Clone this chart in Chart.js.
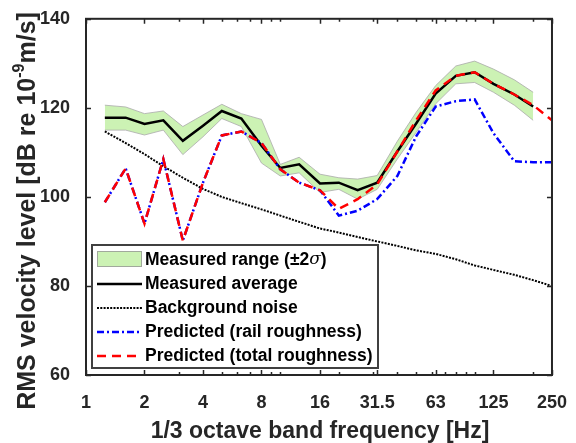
<!DOCTYPE html>
<html>
<head>
<meta charset="utf-8">
<script src="https://cdn.jsdelivr.net/npm/chart.js@4.4.0/dist/chart.umd.min.js"></script>
<style>
    html, body { margin: 0; padding: 0; background: #fff; }
    #wrap { width: 576px; height: 443px; }
</style>
</head>
<body>
<div id="wrap"><canvas id="velocityChart" width="576" height="443"></canvas></div>
<script>
// 1/3 octave band centre frequencies [Hz]
const bandFreqs = [1.25, 1.6, 2, 2.5, 3.15, 4, 5, 6.3, 8, 10, 12.5, 16, 20, 25, 31.5, 40, 50, 63, 80, 100, 125, 160, 200, 250];

// Measured values only go up to 200 Hz
const measuredAvg = [117.8, 117.8, 116.4, 117.2, 112.6, 116.0, 119.3, 117.6, 111.5, 106.5, 107.3, 103.0, 103.2, 101.5, 103.2, 110.2, 116.5, 123.2, 127.2, 128.0, 125.4, 123.0, 120.3];
const measuredUpper = [120.6, 120.2, 118.7, 119.3, 115.8, 118.4, 120.8, 118.7, 117.4, 107.3, 108.9, 105.1, 104.3, 104.0, 104.8, 112.5, 119.0, 125.0, 129.4, 130.5, 128.7, 126.3, 123.5];
const measuredLower = [115.0, 115.0, 113.9, 115.0, 109.5, 113.5, 117.6, 115.8, 107.6, 104.7, 105.4, 101.0, 101.7, 99.5, 101.7, 108.5, 114.5, 120.9, 125.4, 125.7, 123.5, 120.6, 117.2];

const backgroundNoise = [114.7, 112.1, 109.6, 106.9, 104.3, 101.8, 100.0, 98.6, 97.2, 95.8, 94.4, 92.9, 92.0, 91.0, 90.0, 89.0, 88.0, 87.2, 86.0, 84.6, 83.6, 82.5, 81.3, 80.0];
const predictedRail = [98.8, 106.4, 94.0, 108.5, 90.2, 103.2, 113.8, 114.7, 112.1, 106.2, 103.2, 101.5, 95.8, 96.9, 99.5, 104.7, 113.6, 120.3, 121.5, 121.9, 114.3, 108.0, 107.8, 107.8];
const predictedTotal = [98.8, 106.4, 94.0, 108.5, 90.2, 103.2, 113.8, 114.7, 112.1, 106.2, 103.2, 101.5, 97.3, 99.5, 102.8, 110.2, 117.2, 123.9, 127.2, 128.0, 125.4, 123.0, 120.6, 117.2];

// Axis ticks
const xTickValues = [1, 2, 4, 8, 16, 31.5, 63, 125, 250];
const xTickLabels = ['1', '2', '4', '8', '16', '31.5', '63', '125', '250'];
const xMinorTicks = [3, 5, 6, 7, 9, 10, 20, 30, 40, 50, 60, 70, 80, 90, 100, 200];
const yTickValues = [60, 80, 100, 120, 140];

const FONT = '"Liberation Sans", Arial, sans-serif';
const AXIS_COLOR = '#262626';
const BAND_GREEN = 'rgb(204, 242, 180)';

// Pair frequencies with values
function toPoints(values) {
    return values.map((v, i) => ({ x: bandFreqs[i], y: v }));
}

// Frame, inward ticks and axis titles
const framePlugin = {
    id: 'frame',
    afterDatasetsDraw(chart) {
        const { ctx, chartArea: a, scales } = chart;
        ctx.save();
        ctx.strokeStyle = AXIS_COLOR;
        ctx.lineWidth = 1.5;
        // x ticks (bottom and top)
        const drawX = (vals, len) => {
            vals.forEach(v => {
                const px = Math.round(scales.x.getPixelForValue(v)) + 0.5;
                ctx.beginPath();
                ctx.moveTo(px, a.bottom); ctx.lineTo(px, a.bottom - len);
                ctx.moveTo(px, a.top); ctx.lineTo(px, a.top + len);
                ctx.stroke();
            });
        };
        drawX(xMinorTicks, 3);
        drawX(xTickValues, 5);
        // y ticks (left and right)
        yTickValues.forEach(v => {
            const py = Math.round(scales.y.getPixelForValue(v)) + 0.5;
            ctx.beginPath();
            ctx.moveTo(a.left, py); ctx.lineTo(a.left + 5, py);
            ctx.moveTo(a.right, py); ctx.lineTo(a.right - 5, py);
            ctx.stroke();
        });
        ctx.lineWidth = 2;
        ctx.strokeRect(a.left, a.top, a.right - a.left, a.bottom - a.top);

        // x axis title
        ctx.fillStyle = AXIS_COLOR;
        ctx.font = 'bold 23px ' + FONT;
        ctx.textAlign = 'center';
        ctx.textBaseline = 'alphabetic';
        ctx.fillText('1/3 octave band frequency [Hz]', (a.left + a.right) / 2 + 1, 438);

        // y axis title with superscript exponent
        ctx.translate(35, 211);
        ctx.rotate(-Math.PI / 2);
        const mainFont = 'bold 25px ' + FONT;
        const supFont = 'bold 16px ' + FONT;
        const parts = [
            { t: 'RMS velocity level [dB re 10', f: mainFont, dy: 0 },
            { t: '-9', f: supFont, dy: -11 },
            { t: 'm/s]', f: mainFont, dy: 0 }
        ];
        let total = 0;
        parts.forEach(p => { ctx.font = p.f; p.w = ctx.measureText(p.t).width; total += p.w; });
        let x = -total / 2;
        ctx.textAlign = 'left';
        parts.forEach(p => {
            ctx.font = p.f;
            ctx.fillText(p.t, x, p.dy);
            x += p.w;
        });
        ctx.restore();
    }
};

// Legend box drawn inside the axes, lower left
const legendPlugin = {
    id: 'boxLegend',
    afterDraw(chart) {
        const { ctx } = chart;
        const box = { x: 92, y: 245, w: 286, h: 123 };
        ctx.save();
        ctx.fillStyle = '#fff';
        ctx.fillRect(box.x, box.y, box.w, box.h);
        ctx.strokeStyle = '#404040';
        ctx.lineWidth = 2;
        ctx.strokeRect(box.x, box.y, box.w, box.h);

        const x0 = 97, x1 = 142, tx = 145;
        const rows = [260, 284, 308, 332, 356];
        // green patch
        ctx.fillStyle = BAND_GREEN;
        ctx.fillRect(x0, 251, x1 - x0, 16);
        ctx.strokeStyle = 'rgba(150,150,150,0.8)';
        ctx.lineWidth = 1;
        ctx.strokeRect(x0 + 0.5, 251.5, x1 - x0 - 1, 15);

        const lines = [
            null,
            { c: '#000', w: 2.5, d: [] },
            { c: '#000', w: 2, d: [2, 1.3] },
            { c: '#0000ff', w: 2.5, d: [7, 3, 2, 3] },
            { c: '#ff0000', w: 2.5, d: [9, 6] }
        ];
        lines.forEach((l, i) => {
            if (!l) return;
            ctx.beginPath();
            ctx.strokeStyle = l.c;
            ctx.lineWidth = l.w;
            ctx.setLineDash(l.d);
            ctx.moveTo(x0, rows[i]);
            ctx.lineTo(x1, rows[i]);
            ctx.stroke();
        });
        ctx.setLineDash([]);

        ctx.fillStyle = '#000';
        ctx.textAlign = 'left';
        ctx.textBaseline = 'middle';
        const bold = 'bold 17.5px ' + FONT;
        ctx.font = bold;
        // first entry has an italic sigma
        let px = tx;
        ctx.fillText('Measured range (\u00b12', px, rows[0]);
        px += ctx.measureText('Measured range (\u00b12').width;
        ctx.font = 'italic 17px "DejaVu Serif", serif';
        ctx.fillText('\u03c3', px, rows[0]);
        px += ctx.measureText('\u03c3').width;
        ctx.font = bold;
        ctx.fillText(')', px, rows[0]);

        const labels = ['Measured average', 'Background noise', 'Predicted (rail roughness)', 'Predicted (total roughness)'];
        labels.forEach((t, i) => ctx.fillText(t, tx, rows[i + 1]));
        ctx.restore();
    }
};

const ctx = document.getElementById('velocityChart').getContext('2d');
const velocityChart = new Chart(ctx, {
    type: 'line',
    data: {
        datasets: [
            {
                label: 'upper',
                data: toPoints(measuredUpper),
                borderColor: 'rgba(170,170,170,0.8)',
                borderWidth: 1,
                backgroundColor: BAND_GREEN,
                fill: '+1',
                pointRadius: 0,
                order: 6
            },
            {
                label: 'lower',
                data: toPoints(measuredLower),
                borderColor: 'rgba(170,170,170,0.8)',
                borderWidth: 1,
                fill: false,
                pointRadius: 0,
                order: 5
            },
            {
                label: 'Measured average',
                data: toPoints(measuredAvg),
                borderColor: '#000',
                borderWidth: 2.5,
                fill: false,
                pointRadius: 0,
                order: 4
            },
            {
                label: 'Background noise',
                data: toPoints(backgroundNoise),
                borderColor: '#000',
                borderWidth: 2,
                borderDash: [2, 1.3],
                fill: false,
                pointRadius: 0,
                order: 3
            },
            {
                label: 'Predicted (rail roughness)',
                data: toPoints(predictedRail),
                borderColor: '#0000ff',
                borderWidth: 2.5,
                borderDash: [7, 3, 2, 3],
                fill: false,
                pointRadius: 0,
                order: 2
            },
            {
                label: 'Predicted (total roughness)',
                data: toPoints(predictedTotal),
                borderColor: '#ff0000',
                borderWidth: 2.5,
                borderDash: [9, 6],
                fill: false,
                pointRadius: 0,
                order: 1
            }
        ]
    },
    options: {
        responsive: false,
        animation: false,
        devicePixelRatio: 1,
        layout: { padding: { left: 0, right: 16, top: 14, bottom: 0 } },
        plugins: {
            legend: { display: false },
            tooltip: { enabled: false }
        },
        scales: {
            x: {
                type: 'logarithmic',
                min: 1,
                max: 250,
                grid: { display: false },
                border: { display: false },
                afterBuildTicks(scale) {
                    scale.ticks = xTickValues.map(v => ({ value: v }));
                },
                afterFit(scale) { scale.height = 68; },
                ticks: {
                    autoSkip: false,
                    maxRotation: 0,
                    padding: 9,
                    color: AXIS_COLOR,
                    font: { family: FONT, size: 18, weight: 'bold' },
                    callback(value) {
                        const i = xTickValues.indexOf(value);
                        return i >= 0 ? xTickLabels[i] : '';
                    }
                }
            },
            y: {
                min: 60,
                max: 140,
                grid: { display: false },
                border: { display: false },
                afterBuildTicks(scale) {
                    scale.ticks = yTickValues.map(v => ({ value: v }));
                },
                afterFit(scale) { scale.width = 86; },
                ticks: {
                    padding: 8,
                    color: AXIS_COLOR,
                    font: { family: FONT, size: 18, weight: 'bold' }
                }
            }
        }
    },
    plugins: [framePlugin, legendPlugin]
});
</script>
</body>
</html>
